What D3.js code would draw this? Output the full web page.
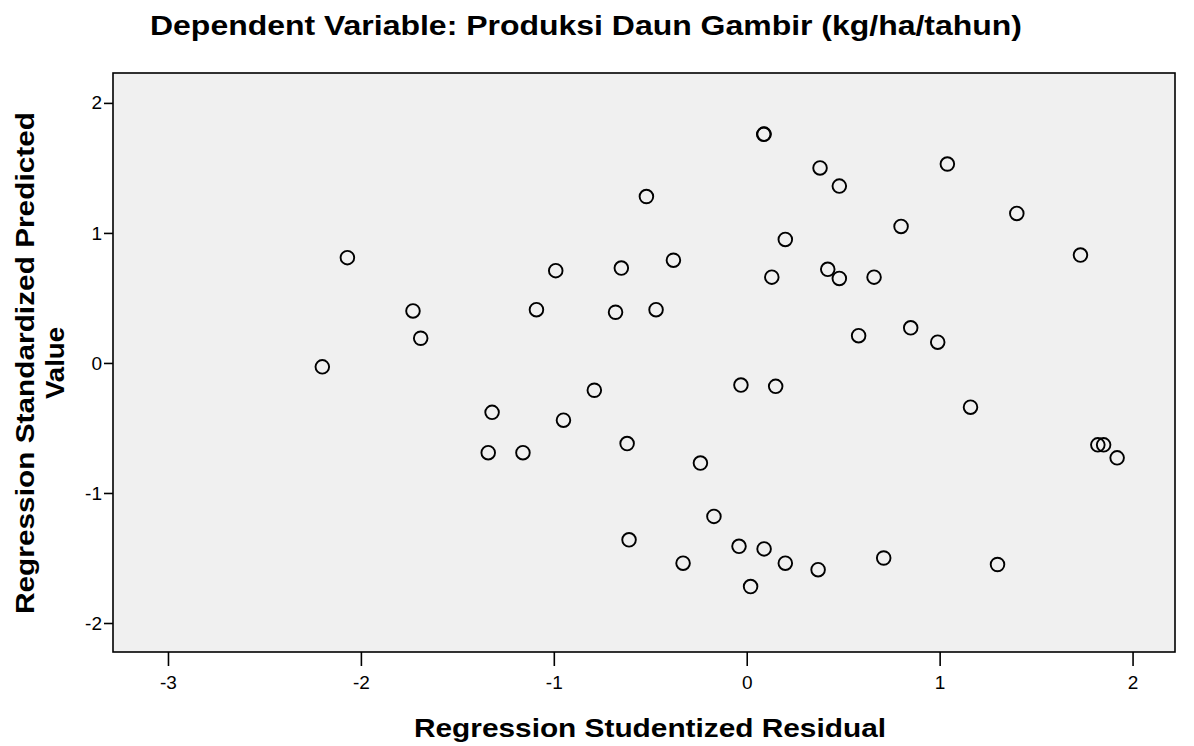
<!DOCTYPE html>
<html>
<head>
  <meta charset="utf-8">
  <script src="https://cdnjs.cloudflare.com/ajax/libs/d3/7.8.5/d3.min.js"></script>
  <style>
    body { margin: 0; background: #fff; }
    text { font-family: "Liberation Sans", Arial, sans-serif; fill: #000; }
  </style>
</head>
<body>
  <svg id="chart" width="1194" height="746"></svg>
  <script>
    // residuals (x) and predicted values (y)
    var residual = [-2.20, -2.07, -1.73, -1.69, -1.32, -1.34, -1.16, -1.09, -0.99, -0.95,
      -0.79, -0.68, -0.65, -0.62, -0.61, -0.52, -0.47, -0.38, -0.33, -0.24,
      -0.17, -0.04, -0.03, 0.02, 0.09, 0.088, 0.09, 0.13, 0.15, 0.20, 0.20,
      0.38, 0.37, 0.42, 0.48, 0.48, 0.58, 0.66, 0.71, 0.80, 0.85, 0.99,
      1.04, 1.16, 1.30, 1.40, 1.73, 1.82, 1.85, 1.92];
    var predicted = [-0.03, 0.81, 0.40, 0.19, -0.38, -0.69, -0.69, 0.41, 0.71, -0.44,
      -0.21, 0.39, 0.73, -0.62, -1.36, 1.28, 0.41, 0.79, -1.54, -0.77,
      -1.18, -1.41, -0.17, -1.72, 1.76, 1.758, -1.43, 0.66, -0.18, -1.54, 0.95,
      1.50, -1.59, 0.72, 1.36, 0.65, 0.21, 0.66, -1.50, 1.05, 0.27, 0.16,
      1.53, -0.34, -1.55, 1.15, 0.83, -0.63, -0.63, -0.73];
    var xTicks = [-3, -2, -1, 0, 1, 2];
    var yTicks = [-2, -1, 0, 1, 2];

    var svg = d3.select("#chart");
    var plotL = 113, plotR = 1175, plotT = 73, plotB = 652;

    var x = d3.scaleLinear().domain([-3.285, 2.22]).range([plotL, plotR]);
    var y = d3.scaleLinear().domain([-2.223, 2.23]).range([plotB, plotT]);

    svg.append("rect")
      .attr("x", plotL).attr("y", plotT)
      .attr("width", plotR - plotL).attr("height", plotB - plotT)
      .attr("fill", "#f0f0f0");

    var xAxis = svg.append("g")
      .attr("transform", "translate(0," + plotB + ")")
      .call(d3.axisBottom(x).tickValues(xTicks).tickSize(14).tickPadding(10).tickFormat(d => String(d)));
    var yAxis = svg.append("g")
      .attr("transform", "translate(" + plotL + ",0)")
      .call(d3.axisLeft(y).tickValues(yTicks).tickSize(9).tickPadding(2).tickFormat(d => String(d)));

    [xAxis, yAxis].forEach(function (g) {
      g.select(".domain").remove();
      g.selectAll("line").attr("stroke", "#000").attr("stroke-width", 1.6);
      g.selectAll("text").style("font-size", "19px").attr("fill", "#000");
    });

    svg.append("rect")
      .attr("x", plotL).attr("y", plotT)
      .attr("width", plotR - plotL).attr("height", plotB - plotT)
      .attr("fill", "none").attr("stroke", "#000").attr("stroke-width", 1.6);

    svg.append("g")
      .selectAll("circle")
      .data(residual)
      .enter()
      .append("circle")
      .attr("cx", d => x(d))
      .attr("cy", (d, i) => y(predicted[i]))
      .attr("r", 6.8)
      .attr("fill", "none")
      .attr("stroke", "#000")
      .attr("stroke-width", 1.9);

    // the original's labels are set wider than Liberation Sans, so stretch them
    svg.append("text")
      .attr("x", 150).attr("y", 35)
      .attr("textLength", 872).attr("lengthAdjust", "spacingAndGlyphs")
      .style("font-size", "27px").style("font-weight", "bold")
      .text("Dependent Variable: Produksi Daun Gambir (kg/ha/tahun)");

    svg.append("text")
      .attr("x", 414).attr("y", 737)
      .attr("textLength", 472).attr("lengthAdjust", "spacingAndGlyphs")
      .style("font-size", "26px").style("font-weight", "bold")
      .text("Regression Studentized Residual");

    var yLab = svg.append("text")
      .attr("transform", "translate(34,363) rotate(-90)")
      .style("font-size", "26px").style("font-weight", "bold");
    yLab.append("tspan").attr("x", -251).attr("y", 0)
      .attr("textLength", 502).attr("lengthAdjust", "spacingAndGlyphs")
      .text("Regression Standardized Predicted");
    yLab.append("tspan").attr("x", -36).attr("y", 30)
      .attr("textLength", 72).attr("lengthAdjust", "spacingAndGlyphs")
      .text("Value");
  </script>
</body>
</html>
